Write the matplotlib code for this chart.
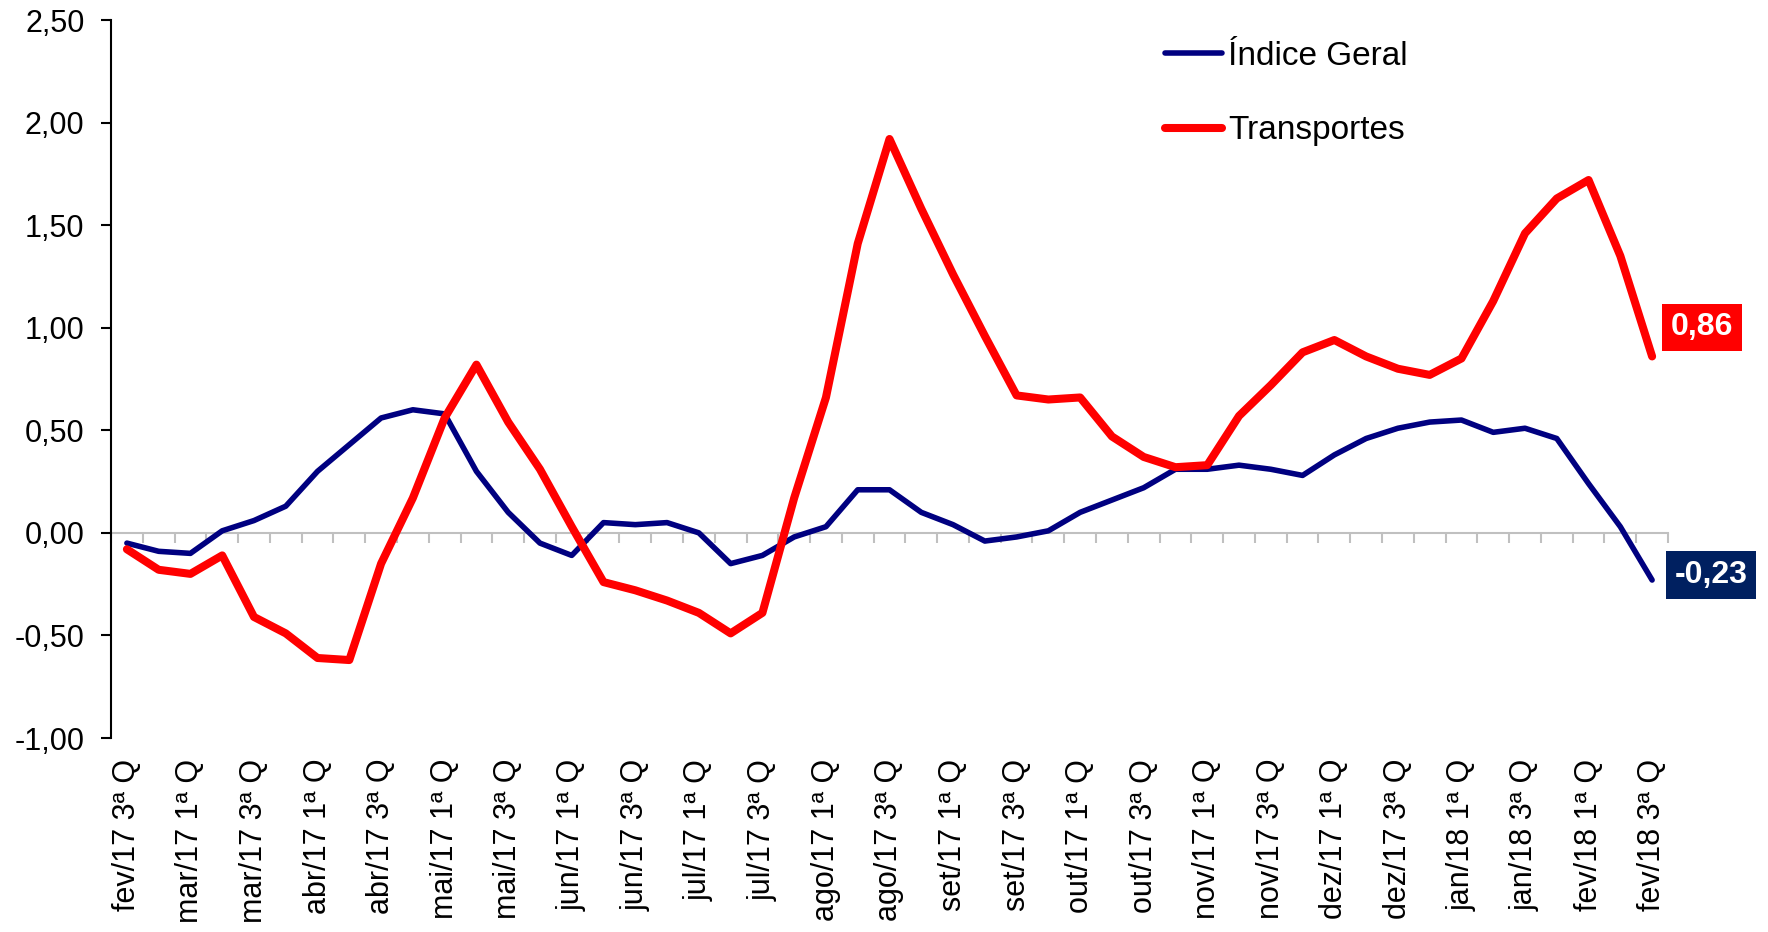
import numpy as np
import matplotlib
matplotlib.use("Agg")
import matplotlib.pyplot as plt
from matplotlib.ticker import FuncFormatter

plt.rcParams['font.family'] = ['Liberation Sans', 'DejaVu Sans']

# dados (variação % por quadrissemana)
indice_geral = [-0.05, -0.09, -0.10, 0.01, 0.06, 0.13, 0.30, 0.43, 0.56, 0.60,
                0.58, 0.30, 0.10, -0.05, -0.11, 0.05, 0.04, 0.05, 0.00, -0.15,
                -0.11, -0.02, 0.03, 0.21, 0.21, 0.10, 0.04, -0.04, -0.02, 0.01,
                0.10, 0.16, 0.22, 0.31, 0.31, 0.33, 0.31, 0.28, 0.38, 0.46,
                0.51, 0.54, 0.55, 0.49, 0.51, 0.46, 0.24, 0.03, -0.23]
transportes = [-0.08, -0.18, -0.20, -0.11, -0.41, -0.49, -0.61, -0.62, -0.15, 0.17,
               0.56, 0.82, 0.54, 0.31, 0.03, -0.24, -0.28, -0.33, -0.39, -0.49,
               -0.39, 0.17, 0.66, 1.41, 1.92, 1.58, 1.26, 0.96, 0.67, 0.65,
               0.66, 0.47, 0.37, 0.32, 0.33, 0.57, 0.72, 0.88, 0.94, 0.86,
               0.80, 0.77, 0.85, 1.13, 1.46, 1.63, 1.72, 1.35, 0.86]
rotulos = ['fev/17 3ª Q', 'mar/17 1ª Q', 'mar/17 3ª Q', 'abr/17 1ª Q', 'abr/17 3ª Q',
           'mai/17 1ª Q', 'mai/17 3ª Q', 'jun/17 1ª Q', 'jun/17 3ª Q', 'jul/17 1ª Q',
           'jul/17 3ª Q', 'ago/17 1ª Q', 'ago/17 3ª Q', 'set/17 1ª Q', 'set/17 3ª Q',
           'out/17 1ª Q', 'out/17 3ª Q', 'nov/17 1ª Q', 'nov/17 3ª Q', 'dez/17 1ª Q',
           'dez/17 3ª Q', 'jan/18 1ª Q', 'jan/18 3ª Q', 'fev/18 1ª Q', 'fev/18 3ª Q']

azul = '#000080'
vermelho = '#ff0000'
cinza = '#c0c0c0'

x = np.arange(len(indice_geral))

fig = plt.figure(figsize=(17.68, 9.32), dpi=100)
ax = fig.add_axes([111 / 1768, 1 - 738 / 932, (1668 - 111) / 1768, (738 - 20) / 932])

ax.plot(x, indice_geral, color=azul, lw=4, label='Índice Geral', solid_capstyle='round')
ax.plot(x, transportes, color=vermelho, lw=5.8, label='Transportes', solid_capstyle='round')

ax.set_xlim(-0.5, len(x) - 0.5)
ax.set_ylim(-1.0, 2.5)
ax.set_yticks(np.arange(-1.0, 2.51, 0.5))
ax.yaxis.set_major_formatter(FuncFormatter(lambda v, p: f'{v:.2f}'.replace('.', ',')))

ax.set_xticks(x[::2])
ax.set_xticklabels(rotulos, rotation=90)
ax.tick_params(axis='x', length=0, pad=15, labelsize=22)
ax.tick_params(axis='y', length=7, width=1.5, labelsize=22, pad=12)

for s in ['top', 'right', 'bottom']:
    ax.spines[s].set_visible(False)
ax.spines['left'].set_linewidth(1.5)

# eixo do zero com marcas cinzas
ymin, ymax = ax.get_ylim()
eixo0 = ax.secondary_xaxis((0 - ymin) / (ymax - ymin))
eixo0.spines['bottom'].set_color(cinza)
eixo0.spines['bottom'].set_linewidth(1.5)
eixo0.set_xticks(np.arange(-0.5, len(x), 1))
eixo0.tick_params(axis='x', length=7, width=1.5, color=cinza, labelbottom=False)

leg = ax.legend(loc='upper left', bbox_to_anchor=(1135 / 1768, 1 - 11 / 932),
                bbox_transform=fig.transFigure, frameon=False, fontsize=24,
                handlelength=1.7, handletextpad=0.2, labelspacing=1.3)

# rótulos do último valor
ult = len(x) - 1
ax.annotate(f'{transportes[-1]:.2f}'.replace('.', ','), (x[ult], transportes[-1]),
            xytext=(50, 29), textcoords='offset pixels', ha='center', va='center',
            color='white', fontsize=23, fontweight='bold',
            bbox=dict(boxstyle='square,pad=0.27', fc=vermelho, ec='none'))
ax.annotate(f'{indice_geral[-1]:.2f}'.replace('.', ','), (x[ult], indice_geral[-1]),
            xytext=(59, 5), textcoords='offset pixels', ha='center', va='center',
            color='white', fontsize=23, fontweight='bold',
            bbox=dict(boxstyle='square,pad=0.27', fc='#002060', ec='none'))

fig.savefig('out.png', dpi=100)
